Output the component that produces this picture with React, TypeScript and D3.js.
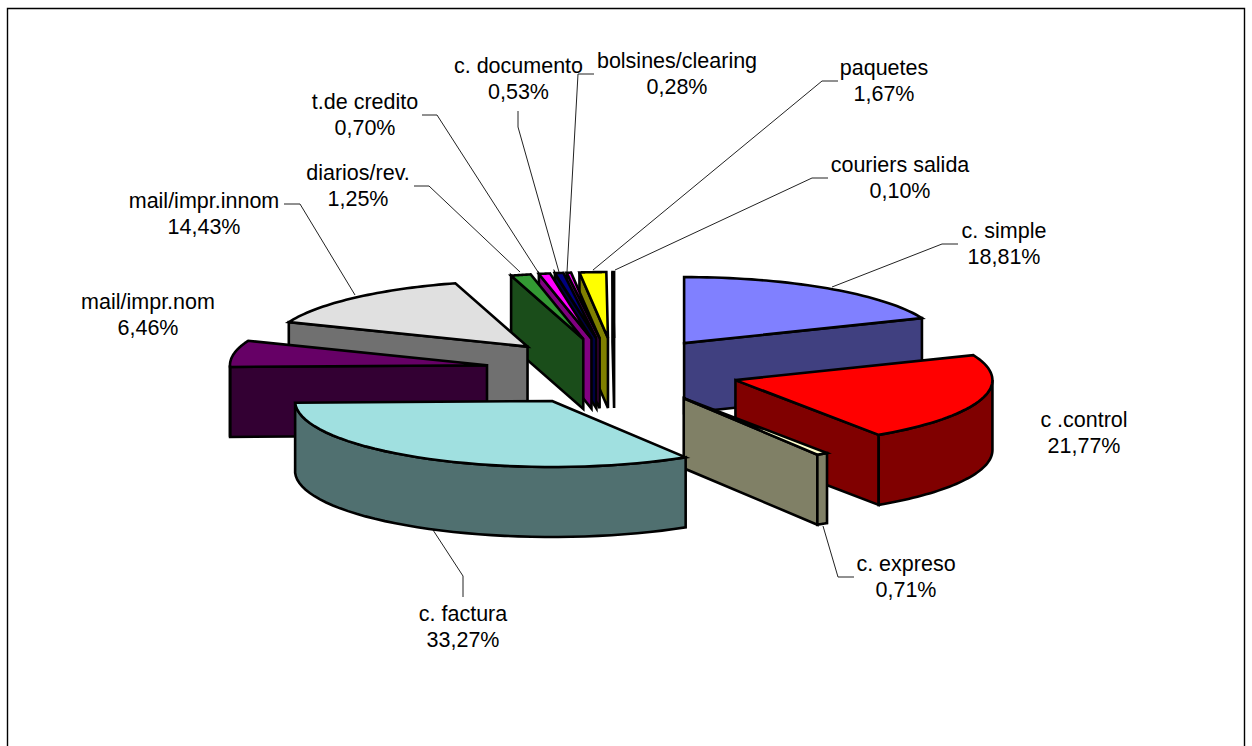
import React from "react";
import * as d3 from "d3";

const categories = ["c. simple","c .control","c. expreso","c. factura","mail/impr.nom","mail/impr.innom","diarios/rev.","t.de credito","c. documento","bolsines/clearing","paquetes","couriers salida"];
const shareValues = [18.81,21.77,0.71,33.27,6.46,14.43,1.25,0.70,0.53,0.28,1.67,0.10];
const shareLabels = ["18,81%","21,77%","0,71%","33,27%","6,46%","14,43%","1,25%","0,70%","0,53%","0,28%","1,67%","0,10%"];
const topColors = ["#8080ff","#ff0000","#ffffcc","#a0e0e0","#660066","#e0e0e0","#339933","#ff00ff","#000080","#ff00ff","#ffff00","#00ffff"];
const sideColors = ["#404080","#800000","#808066","#507070","#330033","#707070","#1a4d1a","#800080","#000040","#800080","#808000","#008080"];

// Layout (not data)
const W = 1252, H = 746;
const CX = 612.5, CY = 370.5, RX = 257, RY = 66, DEPTH = 70, EXPLODE = 0.5;
const paintOrder = [0, 11, 10, 9, 8, 7, 6, 5, 4, 1, 2, 3];
const nudgeX = [0, 0, 2, 1, 1, 1.5, 2, 2.5, 2.5, 2.5, 3, 2];
const nudgeY = [0, 0, 0, 1.5, 0.5, 0.5, 0.5, 0.5, 0.5, 0.5, 0.5, 0.5];
const labelCenters: [number, number][] = [[1004,230],[1084,419],[906,563],[463,613],[148,301],[204,200],[358,172],[365,101],[518.5,65],[677,60],[884,67],[900,164]];
const leaders: ([number, number][] | null)[] = [
  [[958,244],[942,244],[832,287]],
  null,
  [[854,577],[838,577],[823,526]],
  [[463,597],[463,576],[433,530]],
  null,
  [[284,204],[300,204],[355,295]],
  [[414,186],[429,186],[520,272]],
  [[422,115],[437,115],[538,272]],
  [[518,111],[518,127],[559,272]],
  [[594,74],[578,74],[567,272]],
  [[838,81],[822,81],[593,270]],
  [[828,178],[812,178],[615,270]],
];

type P = [number, number];
const line = d3.line<P>();
const arcs = d3.pie<number>().sort(null).value(d => d)(shareValues).map((a, i) => ({ ...a, i }));
const pt = (cx: number, cy: number, t: number): P => [cx + RX * Math.sin(t), cy - RY * Math.cos(t)];
const sample = (a: number, b: number) => d3.range(0, 41).map(k => a + ((b - a) * k) / 40);
const down = (p: P): P => [p[0], p[1] + DEPTH];

function Slice({ arc }: { arc: any }) {
  const { startAngle: a0, endAngle: a1, i } = arc;
  const mid = (a0 + a1) / 2;
  const ax = CX + RX * Math.sin(mid) * EXPLODE + nudgeX[i];
  const ay = CY - RY * Math.cos(mid) * EXPLODE + nudgeY[i];
  const apex: P = [ax, ay];
  const s: P = pt(ax, ay, a0), e: P = pt(ax, ay, a1);
  const rimA = Math.max(a0, Math.PI / 2), rimB = Math.min(a1, (3 * Math.PI) / 2);
  const faces: P[][] = [];
  if (Math.sin(a0) < 0) faces.push([apex, s, down(s), down(apex)]);
  if (Math.sin(a1) > 0) faces.push([e, apex, down(apex), down(e)]);
  if (rimB > rimA) {
    const rim = sample(rimA, rimB).map(t => pt(ax, ay, t));
    faces.push([...rim, ...rim.slice().reverse().map(down)]);
  }
  const top: P[] = [apex, ...sample(a0, a1).map(t => pt(ax, ay, t))];
  const common = { stroke: "#000", strokeWidth: 2.6, strokeLinejoin: "miter" as const, strokeMiterlimit: 4 };
  return (
    <g>
      {faces.map((f, k) => <path key={k} d={line(f) + "Z"} fill={sideColors[i]} {...common} />)}
      <path d={line(top) + "Z"} fill={topColors[i]} {...common} />
    </g>
  );
}

export default function App() {
  return (
    <svg width={W} height={H} style={{ position: "absolute", left: 0, top: 0, display: "block" }} fontFamily="'Liberation Sans', Arial, sans-serif">
      <rect x={0} y={0} width={W} height={H} fill="#fff" />
      <path d={`M7.5 ${H + 5}V8.5H1244.5V${H + 5}`} fill="none" stroke="#000" strokeWidth={1.4} />
      {leaders.map((l, i) => l && <path key={i} d={line(l) ?? ""} fill="none" stroke="#222" strokeWidth={1} />)}
      {paintOrder.map(i => <Slice key={i} arc={arcs[i]} />)}
      {categories.map((c, i) => (
        <text key={c} textAnchor="middle" fontSize={21.5} fill="#000">
          <tspan x={labelCenters[i][0]} y={labelCenters[i][1] + 7.5}>{c}</tspan>
          <tspan x={labelCenters[i][0]} y={labelCenters[i][1] + 34}>{shareLabels[i]}</tspan>
        </text>
      ))}
    </svg>
  );
}
